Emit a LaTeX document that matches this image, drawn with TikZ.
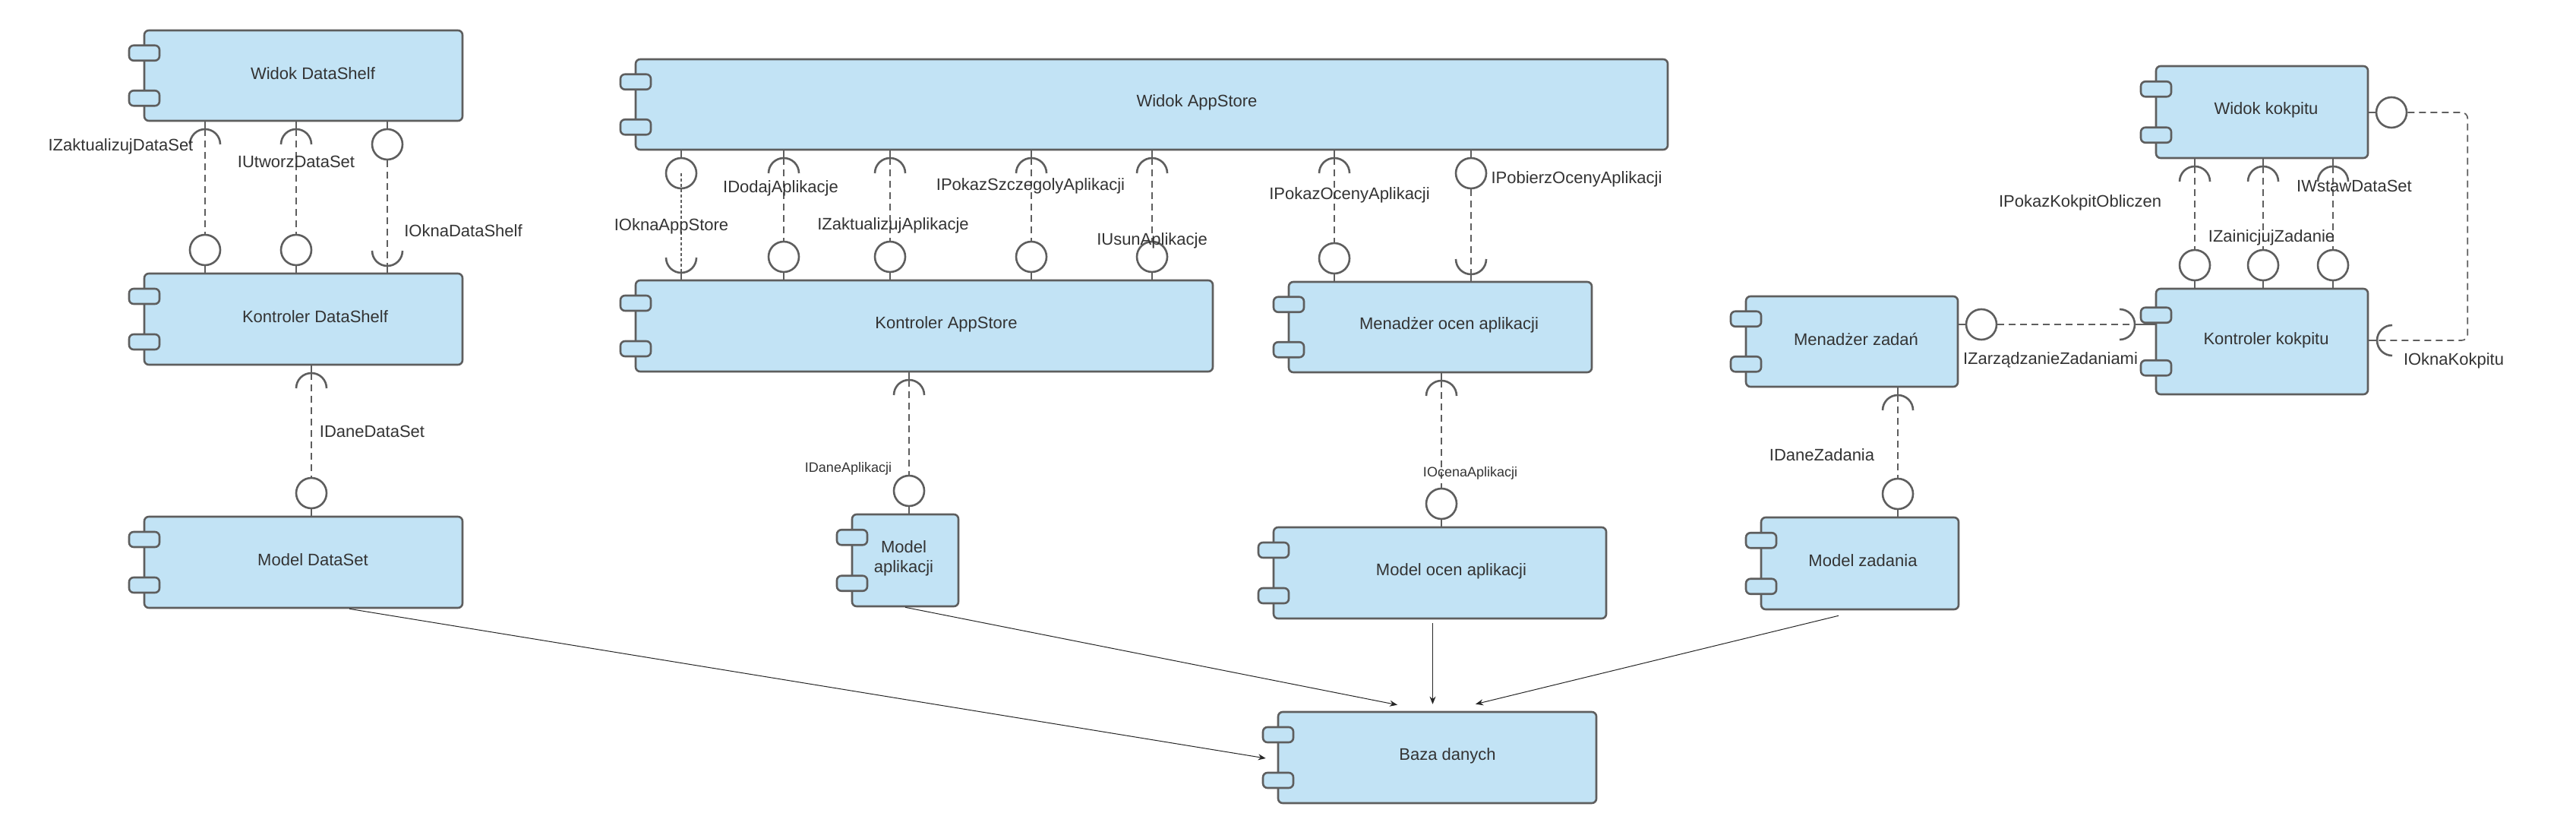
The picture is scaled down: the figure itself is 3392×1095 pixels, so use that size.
\documentclass[tikz,border=0pt]{standalone}
\usepackage{fontspec}
\setmainfont{Liberation Sans}
\usetikzlibrary{arrows.meta,fit}
\definecolor{fillc}{HTML}{C2E3F5}
\definecolor{lc}{HTML}{5E5E5E}
\definecolor{tc}{HTML}{333333}
\begin{document}
\begin{tikzpicture}[x=0.5pt, y=-0.5pt,
  comp/.style={draw=lc, fill=fillc, line width=1.3pt, rounded corners=3pt, inner sep=0pt},
  port/.style={draw=lc, fill=fillc, line width=1.3pt, rounded corners=3pt, minimum width=20pt, minimum height=10pt, inner sep=0pt},
  ln/.style={draw=lc, line width=1.3pt},
  lol/.style={circle, draw=lc, line width=1.3pt, fill=white, minimum size=20pt, inner sep=0pt},
  dsh/.style={draw=lc, line width=0.85pt, dash pattern=on 4.5pt off 3pt},
  dshf/.style={draw=lc, line width=0.6pt, dash pattern=on 2pt off 1.5pt},
  arr/.style={draw=black!85, line width=0.5pt, -{Stealth[length=5pt,width=4pt]}},
  lab/.style={font=\fontsize{11}{13}\selectfont, text=tc, inner sep=0pt, align=center},
  labs/.style={font=\fontsize{9}{11}\selectfont, text=tc, inner sep=0pt},
  sockdn/.pic={\draw[ln] (0,0) -- (0,11) coordinate (-t); \draw[ln] (-20,31) arc[start angle=180, end angle=0, radius=10pt];},
  sockup/.pic={\draw[ln] (0,0) -- (0,-10) coordinate (-t); \draw[ln] (-20,-30) arc[start angle=180, end angle=360, radius=10pt];},
  loldn/.pic={\draw[ln] (0,0) -- (0,11); \node[lol] (-c) at (0,31) {};},
  lolup/.pic={\draw[ln] (0,0) -- (0,-11); \node[lol] (-c) at (0,-31) {};},
  lolrt/.pic={\draw[ln] (0,0) -- (11,0); \node[lol] (-c) at (31,0) {};},
  sockrt/.pic={\draw[ln] (0,0) -- (12,0) coordinate (-t); \draw[ln] (32,-20) arc[start angle=90, end angle=270, radius=10pt];},
  socklf/.pic={\draw[ln] (0,0) -- (-28,0) coordinate (-t); \draw[ln] (-48,-20) arc[start angle=90, end angle=-90, radius=10pt];}
]
\useasboundingbox[fill=white] (0,0) rectangle (3392,1095);

% components
\foreach \n/\xa/\ya/\xb/\yb in {wds/190/40/609/159, kds/190/360/609/480, mds/190/680/609/800,
  was/837/78/2196/197, kas/837/369/1597/489, moa/1697/371/2096/490, map/1122/677/1262/798,
  mocen/1677/694/2115/814, baza/1683/937/2102/1057, mz/2299/390/2578/509,
  wk/2839/87/3118/208, kk/2839/380/3118/519, mzad/2319/681/2579/802}{
  \node[comp, fit={(\xa,\ya) (\xb,\yb)}] (\n) {};
  \node[port] (\n-p1) at (\xa,{\ya+(\yb-\ya)/4}) {};
  \node[port] (\n-p2) at (\xa,{\ya+3*(\yb-\ya)/4}) {};
}

% component texts
\node[lab] (wds-l) at (412,97) {Widok DataShelf};
\node[lab] (kds-l) at (415,417) {Kontroler DataShelf};
\node[lab] (mds-l) at (412,737) {Model DataSet};
\node[lab] (was-l) at (1576,135) {Widok AppStore};
\node[lab] (kas-l) at (1246,427) {Kontroler AppStore};
\node[lab] (moa-l) at (1908,428) {Menadżer ocen aplikacji};
\node[lab] (map-l) at (1190,735) {Model\\aplikacji};
\node[lab] (mocen-l) at (1911,752) {Model ocen aplikacji};
\node[lab] (baza-l) at (1906,995) {Baza danych};
\node[lab] (mz-l) at (2444,447) {Menadżer zadań};
\node[lab] (wk-l) at (2984,145) {Widok kokpitu};
\node[lab] (kk-l) at (2984,448) {Kontroler kokpitu};
\node[lab] (mzad-l) at (2453,738) {Model zadania};

% interfaces: sockets (required) and lollipops (provided)
\pic (s1) at (270,159) {sockdn};  \pic (l1) at (270,360) {lolup};
\pic (s2) at (390,159) {sockdn};  \pic (l2) at (390,360) {lolup};
\pic (l3) at (510,159) {loldn};   \pic (s3) at (510,360) {sockup};
\pic (s4) at (410,480) {sockdn};  \pic (l4) at (410,680) {lolup};
\pic (l5) at (897,197) {loldn};   \pic (s5) at (897,369) {sockup};
\pic (s6) at (1032,197) {sockdn}; \pic (l6) at (1032,369) {lolup};
\pic (s7) at (1172,197) {sockdn}; \pic (l7) at (1172,369) {lolup};
\pic (s8) at (1358,197) {sockdn}; \pic (l8) at (1358,369) {lolup};
\pic (s9) at (1517,197) {sockdn}; \pic (l9) at (1517,369) {lolup};
\pic (s10) at (1757,197) {sockdn}; \pic (l10) at (1757,371) {lolup};
\pic (l11) at (1937,197) {loldn};  \pic (s11) at (1937,371) {sockup};
\pic (s12) at (1197,489) {sockdn}; \pic (l12) at (1197,677) {lolup};
\pic (s13) at (1898,490) {sockdn}; \pic (l13) at (1898,694) {lolup};
\pic (s14) at (2499,509) {sockdn}; \pic (l14) at (2499,681) {lolup};
\pic (s15) at (2890,208) {sockdn}; \pic (l15) at (2890,380) {lolup};
\pic (s16) at (2980,208) {sockdn}; \pic (l16) at (2980,380) {lolup};
\pic (s17) at (3072,208) {sockdn}; \pic (l17) at (3072,380) {lolup};
\pic (l18) at (2578,427) {lolrt};  \pic (s18) at (2839,427) {socklf};
\pic (l19) at (3118,148) {lolrt};  \pic (s19) at (3118,448) {sockrt};

% dashed dependencies
\foreach \i in {1,2,4,6,7,8,9,10,12,13,14,15,16,17}{
  \draw[dsh] (s\i-t) -- (l\i-c.north);
}
\draw[dsh] (l3-c.south) -- (s3-t);
\draw[dsh] (l11-c.south) -- (s11-t);
\draw[dshf] (l5-c.center) -- (s5-t);
\draw[dsh] (l18-c.east) -- (s18-t);
\draw[dsh, rounded corners=4pt] (l19-c.east) -- ++(79,0) |- (s19-t);

% interface labels
\node[lab] (n1) at (159,193) {IZaktualizujDataSet};
\node[lab] (n2) at (390,213) {IUtworzDataSet};
\node[lab] (n3) at (610,304) {IOknaDataShelf};
\node[lab] (n4) at (490,568) {IDaneDataSet};
\node[lab] (n5) at (884,298) {IOknaAppStore};
\node[lab] (n6) at (1028,248) {IDodajAplikacje};
\node[lab] (n7) at (1176,297) {IZaktualizujAplikacje};
\node[lab] (n8) at (1357,245) {IPokazSzczegolyAplikacji};
\node[lab] (n9) at (1517,317) {IUsunAplikacje};
\node[lab] (n10) at (1777,257) {IPokazOcenyAplikacji};
\node[lab] (n11) at (2076,236) {IPobierzOcenyAplikacji};
\node[labs] (n12) at (1117,617) {IDaneAplikacji};
\node[labs] (n13) at (1936,623) {IOcenaAplikacji};
\node[lab] (n14) at (2399,599) {IDaneZadania};
\node[lab] (n15) at (2739,267) {IPokazKokpitObliczen};
\node[lab] (n16) at (2991,313) {IZainicjujZadanie};
\node[lab] (n17) at (3100,245) {IWstawDataSet};
\node[lab] (n18) at (2700,474) {IZarządzanieZadaniami};
\node[lab] (n19) at (3231,475) {IOknaKokpitu};

% associations to the database
\draw[arr] ([xshift=30.25pt]mds.south) -- ([xshift=-7.5pt,yshift=-0.5pt]baza.west);
\draw[arr] (map.south) -- ([xshift=-26.25pt,yshift=4pt]baza.north);
\draw[arr] ([xshift=-4.75pt,yshift=-2.5pt]mocen.south) -- ([xshift=-3pt,yshift=4.5pt]baza.north);
\draw[arr] ([xshift=-14pt,yshift=-3.5pt]mzad.south) -- ([xshift=25.25pt,yshift=4.5pt]baza.north);
\end{tikzpicture}
\end{document}
